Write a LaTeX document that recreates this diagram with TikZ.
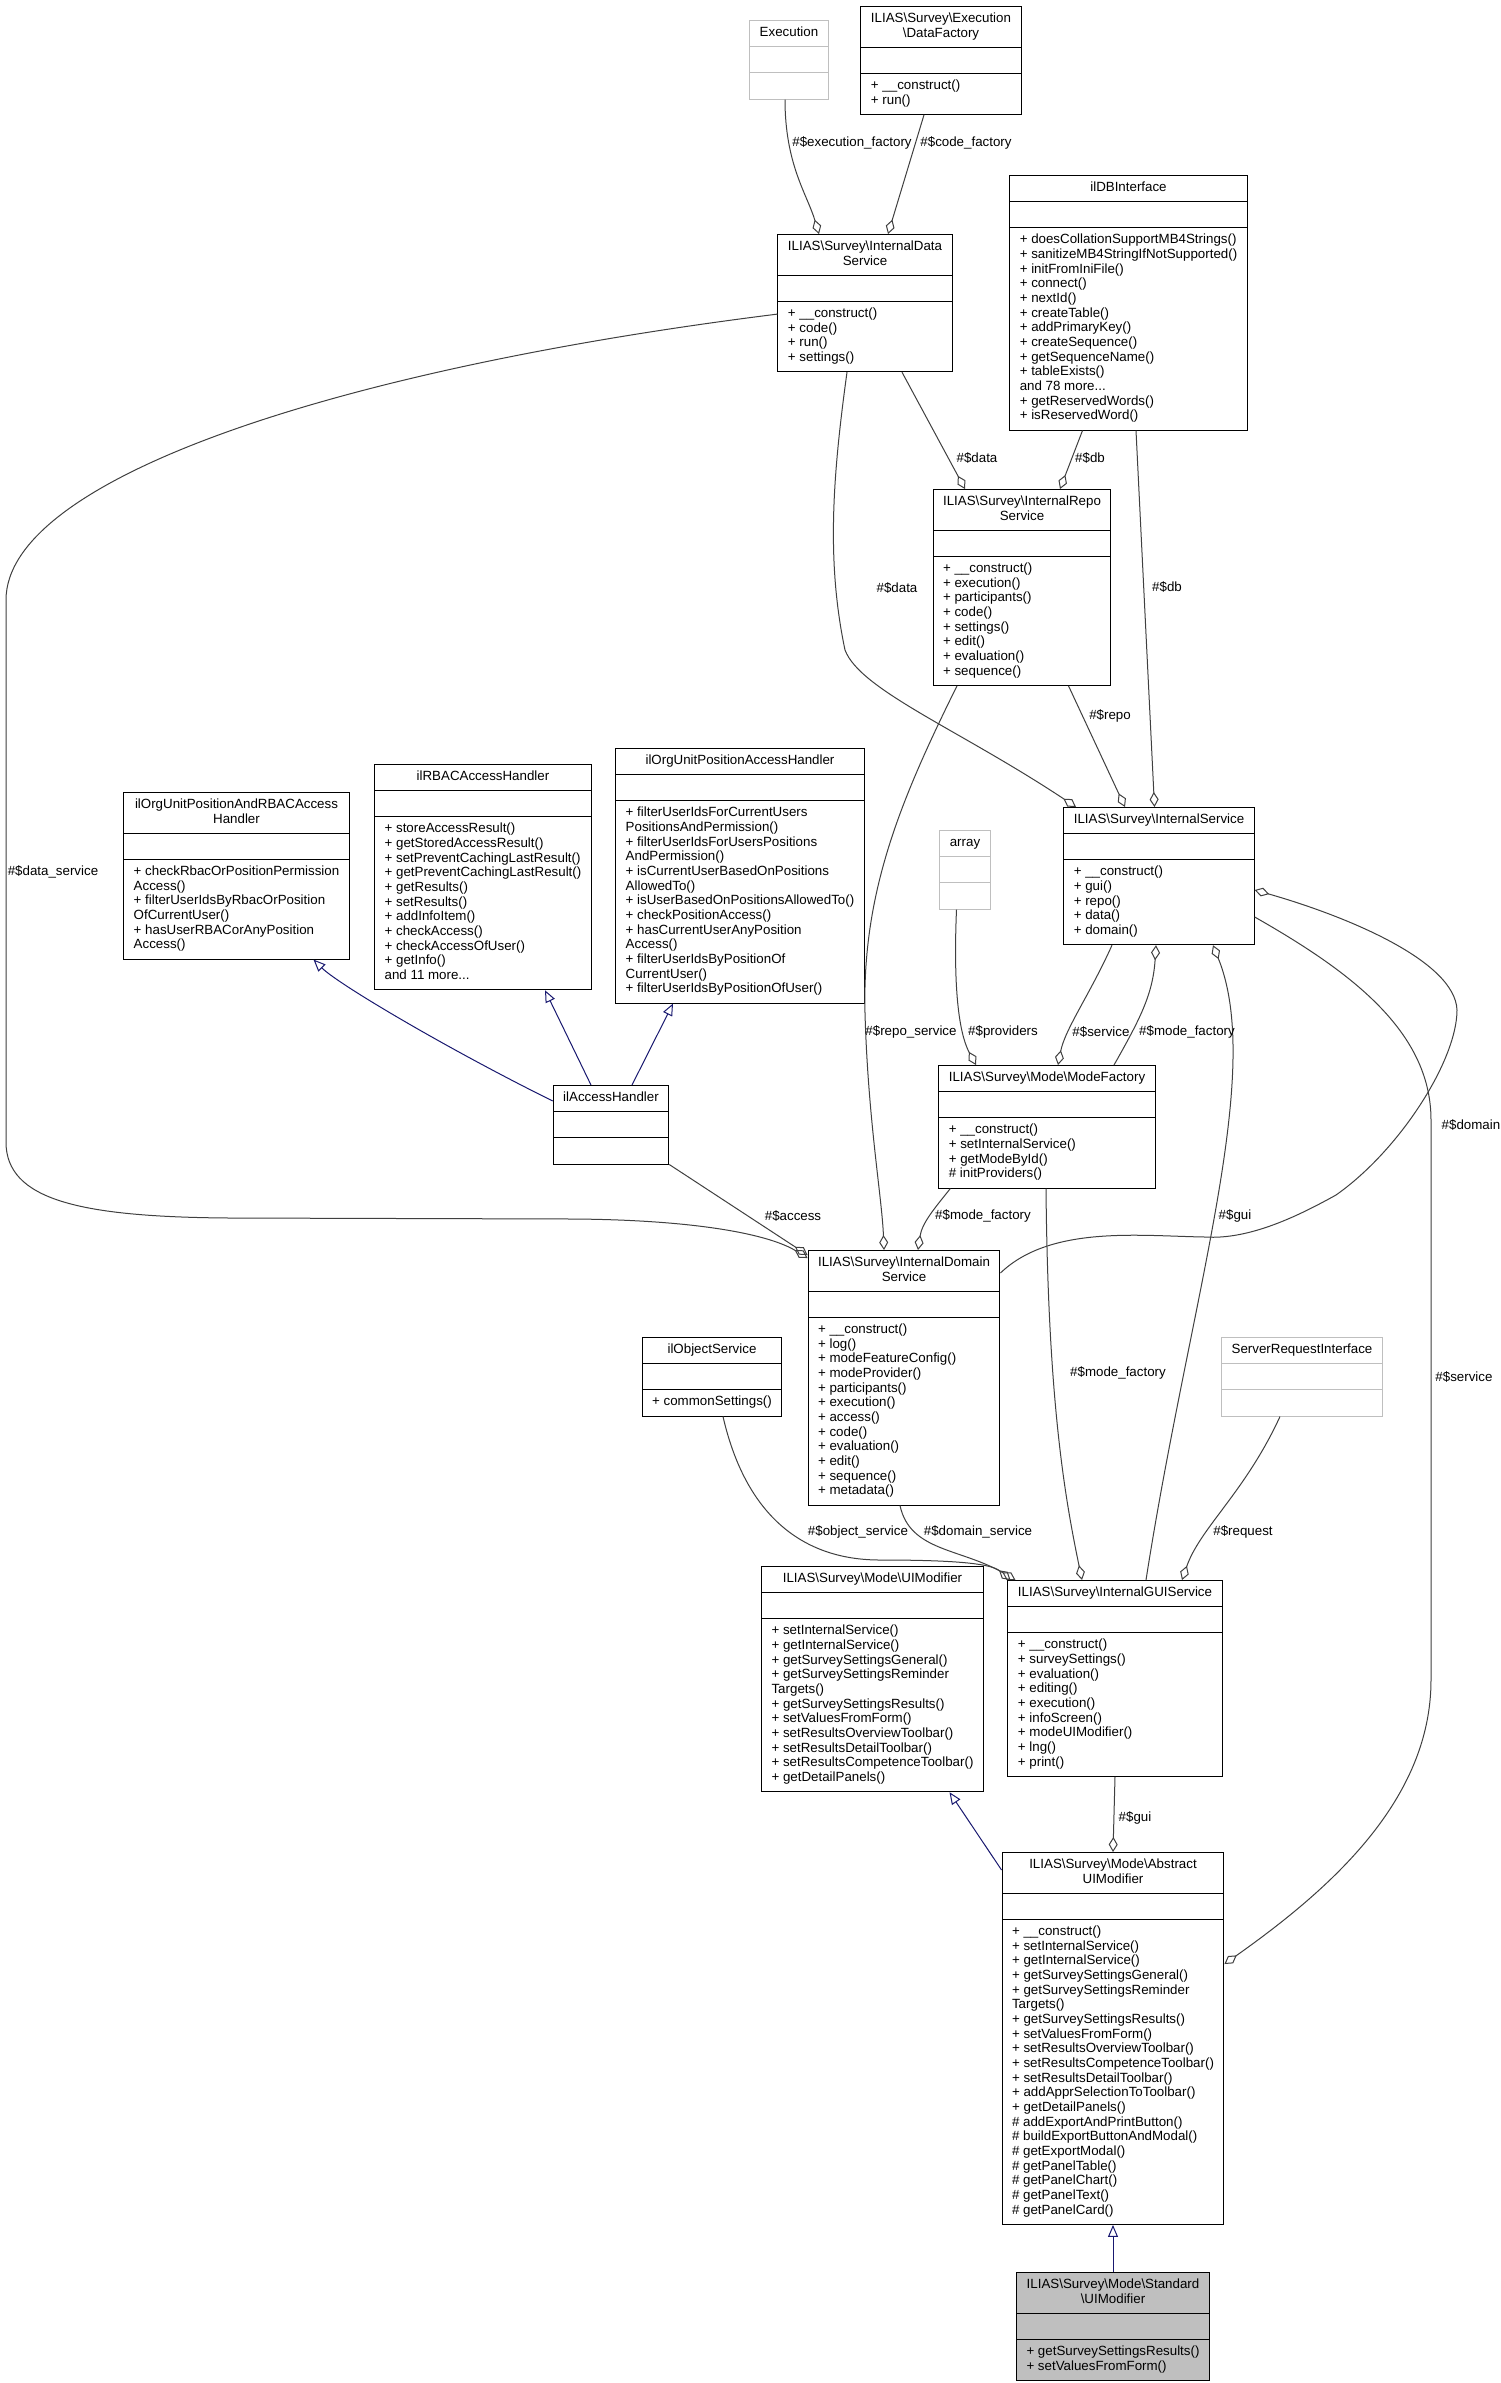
\documentclass[tikz,border=0pt]{standalone}
\usepackage{fontspec}
\setmainfont{Liberation Sans}
\usetikzlibrary{shapes.multipart,arrows.meta,calc}

\definecolor{edgegray}{HTML}{404040}
\definecolor{inhblue}{HTML}{191970}
\definecolor{extgray}{HTML}{BFBFBF}

\newcommand{\bs}{\textbackslash}
\newcommand{\clstitle}[1]{\begin{tabular}{@{}c@{}}#1\end{tabular}}
\newcommand{\clsops}[1]{\begin{tabular}{@{}l@{}}#1\end{tabular}}

\begin{document}
\begin{tikzpicture}
  [x=1pt, y=-1pt,
   cls/.style={rectangle split, rectangle split parts=3, draw=black, line width=1pt,
     fill=white, inner xsep=10pt, inner ysep=5.25pt, anchor=north,
     font=\fontsize{13.33}{14.67}\selectfont,
     rectangle split part align={center,left,left}},
   ext/.style={draw=extgray},
   cur/.style={fill=extgray},
   agg/.style={draw=edgegray, line width=1pt, -{Diamond[open,length=15pt,width=9pt]}},
   inh/.style={draw=inhblue, line width=1pt, -{Triangle[open,length=12pt,width=10pt]}},
   lbl/.style={font=\fontsize{13.33}{14.67}\selectfont, inner sep=0pt}]

  \path[use as bounding box, fill=white] (0,0) rectangle (1500,2383);

  % classes
  \node[cls, ext] (exe) at (789,20) {\clstitle{Execution}\nodepart{two}\strut\nodepart{three}\strut};
  \node[cls] (dfac) at (941,6) {\clstitle{ILIAS\bs Survey\bs Execution\\\bs DataFactory}
    \nodepart{two}\strut
    \nodepart{three}\clsops{+ \_\_construct()\\+ run()}};
  \node[cls] (ids) at (865,234) {\clstitle{ILIAS\bs Survey\bs InternalData\\Service}
    \nodepart{two}\strut
    \nodepart{three}\clsops{+ \_\_construct()\\+ code()\\+ run()\\+ settings()}};
  \node[cls] (db) at (1128.5,175) {\clstitle{ilDBInterface}
    \nodepart{two}\strut
    \nodepart{three}\clsops{+ doesCollationSupportMB4Strings()\\+ sanitizeMB4StringIfNotSupported()\\
      + initFromIniFile()\\+ connect()\\+ nextId()\\+ createTable()\\+ addPrimaryKey()\\
      + createSequence()\\+ getSequenceName()\\+ tableExists()\\and 78 more...\\
      + getReservedWords()\\+ isReservedWord()}};
  \node[cls] (irs) at (1022,489) {\clstitle{ILIAS\bs Survey\bs InternalRepo\\Service}
    \nodepart{two}\strut
    \nodepart{three}\clsops{+ \_\_construct()\\+ execution()\\+ participants()\\+ code()\\
      + settings()\\+ edit()\\+ evaluation()\\+ sequence()}};
  \node[cls] (isvc) at (1159,807) {\clstitle{ILIAS\bs Survey\bs InternalService}
    \nodepart{two}\strut
    \nodepart{three}\clsops{+ \_\_construct()\\+ gui()\\+ repo()\\+ data()\\+ domain()}};
  \node[cls, ext] (arr) at (965,830) {\clstitle{array}\nodepart{two}\strut\nodepart{three}\strut};
  \node[cls] (ouprbac) at (236.5,792) {\clstitle{ilOrgUnitPositionAndRBACAccess\\Handler}
    \nodepart{two}\strut
    \nodepart{three}\clsops{+ checkRbacOrPositionPermission\\Access()\\+ filterUserIdsByRbacOrPosition\\
      OfCurrentUser()\\+ hasUserRBACorAnyPosition\\Access()}};
  \node[cls] (rbac) at (483,764) {\clstitle{ilRBACAccessHandler}
    \nodepart{two}\strut
    \nodepart{three}\clsops{+ storeAccessResult()\\+ getStoredAccessResult()\\+ setPreventCachingLastResult()\\
      + getPreventCachingLastResult()\\+ getResults()\\+ setResults()\\+ addInfoItem()\\
      + checkAccess()\\+ checkAccessOfUser()\\+ getInfo()\\and 11 more...}};
  \node[cls] (oupah) at (740,748) {\clstitle{ilOrgUnitPositionAccessHandler}
    \nodepart{two}\strut
    \nodepart{three}\clsops{+ filterUserIdsForCurrentUsers\\PositionsAndPermission()\\
      + filterUserIdsForUsersPositions\\AndPermission()\\+ isCurrentUserBasedOnPositions\\AllowedTo()\\
      + isUserBasedOnPositionsAllowedTo()\\+ checkPositionAccess()\\+ hasCurrentUserAnyPosition\\Access()\\
      + filterUserIdsByPositionOf\\CurrentUser()\\+ filterUserIdsByPositionOfUser()}};
  \node[cls] (acc) at (611,1085) {\clstitle{ilAccessHandler}\nodepart{two}\strut\nodepart{three}\strut};
  \node[cls] (mfac) at (1047,1065) {\clstitle{ILIAS\bs Survey\bs Mode\bs ModeFactory}
    \nodepart{two}\strut
    \nodepart{three}\clsops{+ \_\_construct()\\+ setInternalService()\\+ getModeById()\\\# initProviders()}};
  \node[cls] (idom) at (904,1250) {\clstitle{ILIAS\bs Survey\bs InternalDomain\\Service}
    \nodepart{two}\strut
    \nodepart{three}\clsops{+ \_\_construct()\\+ log()\\+ modeFeatureConfig()\\+ modeProvider()\\
      + participants()\\+ execution()\\+ access()\\+ code()\\+ evaluation()\\+ edit()\\
      + sequence()\\+ metadata()}};
  \node[cls] (objs) at (712,1337) {\clstitle{ilObjectService}
    \nodepart{two}\strut
    \nodepart{three}\clsops{+ commonSettings()}};
  \node[cls, ext] (sri) at (1302,1337) {\clstitle{ServerRequestInterface}\nodepart{two}\strut\nodepart{three}\strut};
  \node[cls] (uim) at (872.5,1566) {\clstitle{ILIAS\bs Survey\bs Mode\bs UIModifier}
    \nodepart{two}\strut
    \nodepart{three}\clsops{+ setInternalService()\\+ getInternalService()\\+ getSurveySettingsGeneral()\\
      + getSurveySettingsReminder\\Targets()\\+ getSurveySettingsResults()\\+ setValuesFromForm()\\
      + setResultsOverviewToolbar()\\+ setResultsDetailToolbar()\\+ setResultsCompetenceToolbar()\\
      + getDetailPanels()}};
  \node[cls] (igui) at (1115,1580) {\clstitle{ILIAS\bs Survey\bs InternalGUIService}
    \nodepart{two}\strut
    \nodepart{three}\clsops{+ \_\_construct()\\+ surveySettings()\\+ evaluation()\\+ editing()\\
      + execution()\\+ infoScreen()\\+ modeUIModifier()\\+ lng()\\+ print()}};
  \node[cls] (auim) at (1113,1852) {\clstitle{ILIAS\bs Survey\bs Mode\bs Abstract\\UIModifier}
    \nodepart{two}\strut
    \nodepart{three}\clsops{+ \_\_construct()\\+ setInternalService()\\+ getInternalService()\\
      + getSurveySettingsGeneral()\\+ getSurveySettingsReminder\\Targets()\\+ getSurveySettingsResults()\\
      + setValuesFromForm()\\+ setResultsOverviewToolbar()\\+ setResultsCompetenceToolbar()\\
      + setResultsDetailToolbar()\\+ addApprSelectionToToolbar()\\+ getDetailPanels()\\
      \# addExportAndPrintButton()\\\# buildExportButtonAndModal()\\\# getExportModal()\\
      \# getPanelTable()\\\# getPanelChart()\\\# getPanelText()\\\# getPanelCard()}};
  \node[cls, cur] (suim) at (1113,2272) {\clstitle{ILIAS\bs Survey\bs Mode\bs Standard\\\bs UIModifier}
    \nodepart{two}\strut
    \nodepart{three}\clsops{+ getSurveySettingsResults()\\+ setValuesFromForm()}};

  % members
  \draw[agg] ($(exe.south)+(-4,0)$) .. controls +(0,65) and +(-12,-40) .. ($(ids.north)+(-46,0)$);
  \draw[agg] ($(dfac.south)+(-17,0)$) -- ($(ids.north)+(23,0)$);
  \draw[agg] ($(ids.south)+(37,0)$) -- ($(irs.north)+(-57,0)$);
  \draw[agg] ($(db.south)+(-46,0)$) -- ($(irs.north)+(38,0)$);
  \draw[agg] ($(ids.south)+(-18,0)$) .. controls +(-14,102) and +(-19,-90) .. (845,650)
    .. controls +(15,40) and +(-116,-77) .. ($(isvc.north)+(-83,0)$);
  \draw[agg] ($(db.south)+(7.5,0)$) -- ($(isvc.north)+(-4.5,0)$);
  \draw[agg] ($(irs.south)+(46.5,0)$) -- ($(isvc.north)+(-34,0)$);
  \draw[agg] ($(ids.west)+(0,11)$) .. controls (330,370) and (6,480) .. (6,600) -- (6,1142)
    .. controls (6,1200) and (80,1217) .. (230,1218) -- (574,1219)
    .. controls (700,1220) and (770,1235) .. ($(idom.north west)+(0,8)$);
  \draw[agg] ($(irs.south)+(-65,0)$) .. controls +(-57,115) and +(-3,-120) .. (865,1013)
    .. controls +(3,107) and +(-2,-52) .. ($(idom.north)+(-20,0)$);
  \draw[agg] (acc.south east) -- ($(idom.north west)+(0,5)$);
  \draw[agg] ($(mfac.south west)+(12,0)$) .. controls +(-16,20) and +(4,-27) .. ($(idom.north)+(14,0)$);
  \draw[agg] ($(arr.south)+(-8.5,0)$) .. controls +(-4,95) and +(-14,-26) .. ($(mfac.north)+(-71,0)$);
  \draw[agg] ($(isvc.south)+(-47,0)$) .. controls +(-22,49) and +(7,-36) .. ($(mfac.north)+(11,0)$);
  \draw[agg] ($(mfac.north)+(67,0)$) .. controls +(26,-46) and +(-3,49) .. ($(isvc.south)+(-3,0)$);
  \draw[agg] ($(idom.north east)+(0,23)$) .. controls +(50,-48) and +(-65,-1) .. (1205,1237)
    .. controls +(45,3) and +(-36,20) .. (1336,1195)
    .. controls +(64,-45) and +(0,50) .. (1457,1010)
    .. controls +(-2,-50) and +(88,25) .. ($(isvc.north east)+(0,83)$);
  \draw[agg] ($(igui.north)+(31,0)$) .. controls +(44,-282) and +(52,129) .. ($(isvc.south)+(54,0)$);
  \draw[agg] ($(isvc.north east)+(0,110)$) .. controls +(93,53) and +(0,-90) .. (1431,1120) -- (1431,1680)
    .. controls +(0,120) and +(106,-75) .. ($(auim.north east)+(0,112)$);
  \draw[agg] ($(objs.south)+(11,0)$) .. controls +(22,96) and +(-80,0) .. (880,1560)
    .. controls +(70,0) and +(-20,-17) .. ($(igui.north west)+(3,0)$);
  \draw[agg] ($(idom.south)+(-4,0)$) .. controls +(10,46) and +(-55,-32) .. ($(igui.north west)+(8,0)$);
  \draw[agg] ($(mfac.south)+(-1,0)$) .. controls +(2,214) and +(-17,-82) .. ($(igui.north)+(-33,0)$);
  \draw[agg] ($(sri.south)+(-22,0)$) .. controls +(-35,76) and +(18,-52) .. ($(igui.north)+(67,0)$);
  \draw[agg] (igui.south) -- (auim.north);

  % inheritance
  \draw[inh] ($(acc.north west)+(0,16)$) .. controls +(-103,-51) and +(25,25) .. ($(ouprbac.south)+(77,0)$);
  \draw[inh] ($(acc.north)+(-20,0)$) -- ($(rbac.south)+(62,0)$);
  \draw[inh] ($(acc.north)+(21,0)$) -- ($(oupah.south)+(-67,0)$);
  \draw[inh] ($(auim.north west)+(0,18)$) -- ($(uim.south)+(77,0)$);
  \draw[inh] (suim.north) -- (auim.south);

  % member names
  \node[lbl] (l-exefac) at (852,143) {\#\$execution\_factory};
  \node[lbl] (l-codefac) at (966,143) {\#\$code\_factory};
  \node[lbl] (l-data1) at (977,458) {\#\$data};
  \node[lbl] (l-db1) at (1090,458) {\#\$db};
  \node[lbl] (l-data2) at (897,588) {\#\$data};
  \node[lbl] (l-db2) at (1167,587) {\#\$db};
  \node[lbl] (l-repo) at (1110,716) {\#\$repo};
  \node[lbl] (l-dataserv) at (53,872) {\#\$data\_service};
  \node[lbl] (l-reposerv) at (911,1032) {\#\$repo\_service};
  \node[lbl] (l-prov) at (1003,1032) {\#\$providers};
  \node[lbl] (l-serv1) at (1101,1032) {\#\$service};
  \node[lbl] (l-modefac1) at (1187,1032) {\#\$mode\_factory};
  \node[lbl] (l-domain) at (1471,1125) {\#\$domain};
  \node[lbl] (l-access) at (793,1216) {\#\$access};
  \node[lbl] (l-modefac2) at (983,1216) {\#\$mode\_factory};
  \node[lbl] (l-gui1) at (1235,1216) {\#\$gui};
  \node[lbl] (l-modefac3) at (1118,1373) {\#\$mode\_factory};
  \node[lbl] (l-serv2) at (1464,1377) {\#\$service};
  \node[lbl] (l-objserv) at (858,1532) {\#\$object\_service};
  \node[lbl] (l-domserv) at (978,1532) {\#\$domain\_service};
  \node[lbl] (l-request) at (1243,1532) {\#\$request};
  \node[lbl] (l-gui2) at (1135,1818) {\#\$gui};
\end{tikzpicture}
\end{document}
